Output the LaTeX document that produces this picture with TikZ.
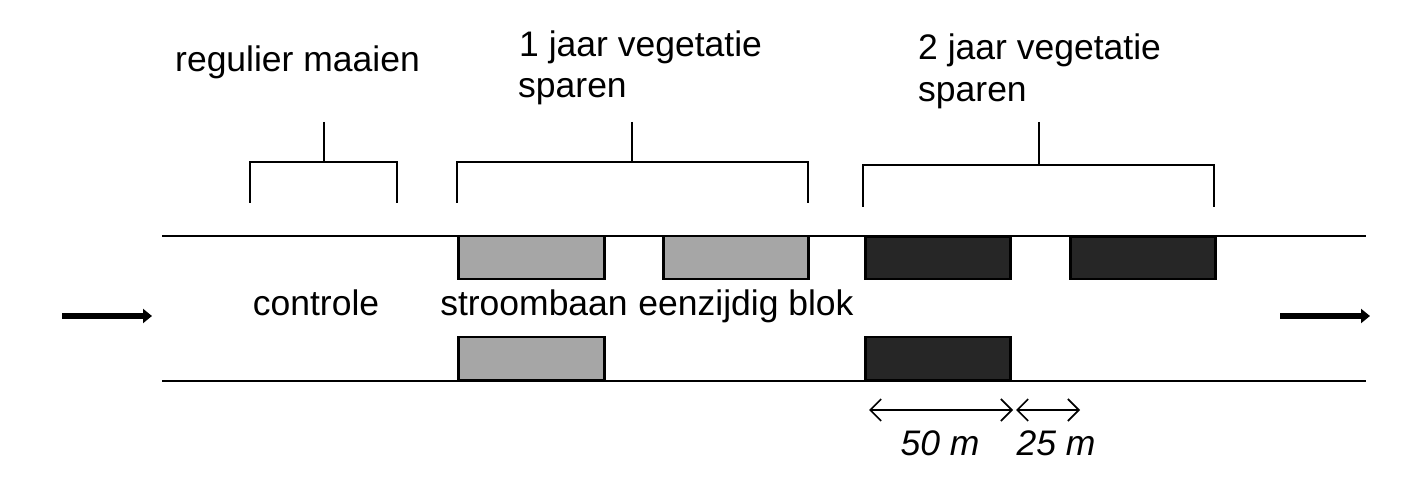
\documentclass[tikz,border=0pt]{standalone}
\usepackage{fontspec}
\setmainfont{Liberation Sans}
\usetikzlibrary{arrows.meta}
\definecolor{lightgrey}{HTML}{A6A6A6}
\definecolor{darkblk}{HTML}{262626}
\begin{document}
\begin{tikzpicture}[x=1pt,y=-1pt,
  lbl/.style={font=\fontsize{35.5}{40}\selectfont, inner sep=0pt},
  road/.style={line width=2pt},
  brk/.style={line width=2.5pt},
  graybox/.style={draw=black, line width=2.5pt, fill=lightgrey},
  blackbox/.style={draw=black, line width=2.5pt, fill=darkblk},
  flow/.style={line width=6.5pt, -{Triangle[length=9pt,width=14pt]}},
  dim/.style={line width=1.6pt, {Straight Barb[length=11pt,width=22pt,line width=1.6pt]}-{Straight Barb[length=11pt,width=22pt,line width=1.6pt]}}]
\useasboundingbox (0,0) rectangle (1401,489);
% road edges
\coordinate (rtl) at (162,236); \coordinate (rtr) at (1366,236);
\coordinate (rbl) at (162,381); \coordinate (rbr) at (1366,381);
\draw[road] (rtl) -- (rtr);
\draw[road] (rbl) -- (rbr);
% boxes
\node[graybox, anchor=north west, minimum width=146pt, minimum height=43pt] (g1) at (457,235) {};
\node[graybox, anchor=north west, minimum width=145pt, minimum height=43pt] (g2) at (662,235) {};
\node[graybox, anchor=south west, minimum width=146pt, minimum height=43pt] (g3) at (457,381) {};
\node[blackbox, anchor=north west, minimum width=145pt, minimum height=42pt] (b1) at (864,236) {};
\node[blackbox, anchor=north west, minimum width=145pt, minimum height=42pt] (b2) at (1069,236) {};
\node[blackbox, anchor=south west, minimum width=145pt, minimum height=43pt] (b3) at (864,381) {};
% brackets
\coordinate (k1a) at (250,203); \coordinate (k1b) at (397,203); \coordinate (k1s) at (324,122);
\draw[brk] (k1a) |- (k1b |- 0,162) -- (k1b);
\draw[brk] (k1s) -- (k1s |- 0,162);
\coordinate (k2a) at (457,203); \coordinate (k2b) at (808,203); \coordinate (k2s) at (632,122);
\draw[brk] (k2a) |- (k2b |- 0,162) -- (k2b);
\draw[brk] (k2s) -- (k2s |- 0,162);
\coordinate (k3a) at (863,207); \coordinate (k3b) at (1214,207); \coordinate (k3s) at (1039,122);
\draw[brk] (k3a) |- (k3b |- 0,165) -- (k3b);
\draw[brk] (k3s) -- (k3s |- 0,165);
% top labels
\node[lbl, anchor=base west] (t1) at (175,72) {regulier maaien};
\node[lbl, anchor=base west] (t2) at (519,57) {1 jaar vegetatie};
\node[lbl, anchor=base west] (t2b) at (518,98) {sparen};
\node[lbl, anchor=base west] (t3) at (918,60) {2 jaar vegetatie};
\node[lbl, anchor=base west] (t3b) at (918,102) {sparen};
% middle labels
\node[lbl, anchor=base] (c1) at (316,316) {controle};
\node[lbl, anchor=base] (c2) at (534,316) {stroombaan};
\node[lbl, anchor=base] (c3) at (746,316) {eenzijdig blok};
% flow arrows
\coordinate (fa1) at (62,316); \coordinate (fa2) at (152,316);
\coordinate (fb1) at (1280,316); \coordinate (fb2) at (1370,316);
\draw[flow] (fa1) -- (fa2);
\draw[flow] (fb1) -- (fb2);
% dimensions
\coordinate (d1) at (869,410); \coordinate (d2) at (1013,410);
\coordinate (d3) at (1016,410); \coordinate (d4) at (1080,410);
\draw[dim] (d1) -- (d2);
\draw[dim] (d3) -- (d4);
\node[lbl, anchor=base, font=\fontsize{35.5}{40}\selectfont\itshape] (m1) at (940,455) {50 m};
\node[lbl, anchor=base, font=\fontsize{35.5}{40}\selectfont\itshape] (m2) at (1056,455) {25 m};
\end{tikzpicture}
\end{document}
